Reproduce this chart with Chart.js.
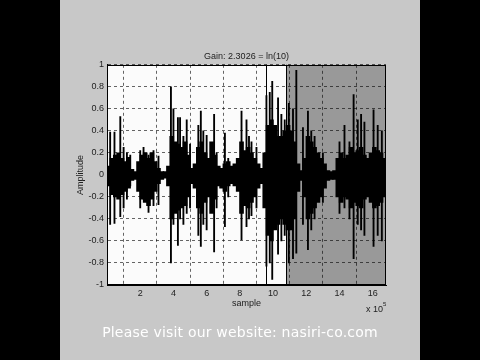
<!DOCTYPE html>
<html>
<head>
<meta charset="utf-8">
<script src="https://cdn.jsdelivr.net/npm/chart.js@4.4.1/dist/chart.umd.min.js"></script>
<style>
  html, body { margin: 0; padding: 0; background: #000; width: 480px; height: 360px; overflow: hidden; }
  #panel { position: absolute; left: 60px; top: 0; width: 360px; height: 360px; background: #c8c8c8; }
  #note { position: absolute; left: 0; top: 324px; width: 360px; text-align: center; color: #fff;
          font: 14px "DejaVu Sans", sans-serif; letter-spacing: 0.2px; }
</style>
</head>
<body>
<div id="panel">
  <canvas id="wave" width="360" height="360"></canvas>
  <div id="note">Please visit our website: nasiri-co.com</div>
</div>
<script>
// x in units of 10^5 samples
// dense core of the waveform, one bin every 0.2
const coreX = [0.1,0.3,0.5,0.7,0.9,1.1,1.3,1.5,1.7,1.9,2.1,2.3,2.5,2.7,2.9,3.1,3.3,3.5,3.7,3.9,
  4.1,4.3,4.5,4.7,4.9,5.1,5.3,5.5,5.7,5.9,6.1,6.3,6.5,6.7,6.9,7.1,7.3,7.5,7.7,7.9,
  8.1,8.3,8.5,8.7,8.9,9.1,9.3,9.5,9.7,9.9,10.1,10.3,10.5,10.7,10.9,11.1,11.3,11.5,11.7,11.9,
  12.1,12.3,12.5,12.7,12.9,13.1,13.3,13.5,13.7,13.9,14.1,14.3,14.5,14.7,14.9,15.1,15.3,15.5,15.7,15.9,
  16.1,16.3,16.5,16.7];
const coreTop = [0.08,0.15,0.18,0.2,0.15,0.12,0.16,0.05,0.03,0.12,
  0.18,0.2,0.15,0.2,0.12,0.06,0.03,0.03,0.08,0.35,
  0.3,0.28,0.25,0.3,0.18,0.06,0.1,0.25,0.3,0.2,
  0.15,0.3,0.18,0.08,0.06,0.1,0.12,0.08,0.1,0.15,
  0.3,0.22,0.25,0.2,0.15,0.1,0.06,0.2,0.45,0.5,
  0.45,0.35,0.35,0.4,0.45,0.4,0.3,0.1,0.04,0.15,
  0.35,0.3,0.25,0.2,0.15,0.1,0.04,0.03,0.04,0.15,
  0.2,0.15,0.18,0.25,0.2,0.22,0.25,0.18,0.15,0.2,
  0.25,0.22,0.2,0.15];
const coreBot = [-0.1,-0.18,-0.2,-0.22,-0.18,-0.15,-0.12,-0.05,-0.04,-0.15,
  -0.22,-0.25,-0.28,-0.22,-0.15,-0.08,-0.04,-0.03,-0.1,-0.4,
  -0.35,-0.32,-0.3,-0.28,-0.2,-0.08,-0.12,-0.3,-0.35,-0.25,
  -0.2,-0.35,-0.22,-0.1,-0.12,-0.15,-0.1,-0.08,-0.1,-0.15,
  -0.35,-0.28,-0.3,-0.25,-0.2,-0.12,-0.08,-0.3,-0.55,-0.6,
  -0.5,-0.45,-0.4,-0.45,-0.5,-0.5,-0.4,-0.15,-0.05,-0.2,
  -0.4,-0.35,-0.3,-0.25,-0.2,-0.12,-0.05,-0.04,-0.04,-0.2,
  -0.25,-0.2,-0.22,-0.3,-0.25,-0.28,-0.3,-0.22,-0.2,-0.25,
  -0.3,-0.28,-0.25,-0.2];

// tall single peaks
const spikeX = [0.19,0.45,0.8,1.0,1.2,1.4,2.0,2.2,2.5,2.8,3.1,3.85,4.0,4.27,4.4,4.6,4.8,5.0,
  5.5,5.65,5.8,6.0,6.45,6.6,7.1,7.3,8.1,8.4,8.55,8.7,9.0,9.6,9.8,9.95,10.3,10.5,10.7,10.95,
  11.2,11.4,11.8,12.1,12.3,12.5,13.0,14.0,14.3,14.6,14.85,15.1,15.3,15.5,16.05,16.3,16.55];
const spikeTop = [0.39,0.39,0.53,0.25,0.2,0.18,0.22,0.25,0.18,0.22,0.17,0.8,0.6,0.52,0.52,0.35,0.5,0.28,
  0.45,0.58,0.4,0.36,0.55,0.2,0.38,0.15,0.58,0.5,0.35,0.3,0.25,0.72,0.75,0.85,0.7,0.55,0.5,0.65,
  0.6,0.95,0.43,0.58,0.4,0.35,0.2,0.3,0.45,0.3,0.73,0.5,0.55,0.48,0.59,0.45,0.4];
const spikeBot = [-0.45,-0.44,-0.38,-0.3,-0.22,-0.1,-0.3,-0.22,-0.34,-0.28,-0.27,-0.8,-0.45,-0.64,-0.4,-0.45,-0.35,-0.3,
  -0.55,-0.65,-0.45,-0.5,-0.7,-0.3,-0.47,-0.2,-0.59,-0.47,-0.4,-0.37,-0.3,-0.83,-0.8,-0.95,-0.72,-0.6,-0.55,-0.8,
  -0.76,-0.71,-0.45,-0.68,-0.5,-0.4,-0.25,-0.35,-0.3,-0.4,-0.76,-0.45,-0.5,-0.55,-0.65,-0.55,-0.6];

const markerX = 9.57;      // cursor line
const selStart = 10.78;    // start of the grey selection
const xMax = 16.8;

//draw plot background, selection and markers under the grid
const backdrop = {
    id: 'backdrop',
    beforeDraw(chart) {
        const {ctx, chartArea: a, scales: {x}} = chart;
        const xs = x.getPixelForValue(selStart);
        const xm = x.getPixelForValue(markerX);
        ctx.save();
        ctx.fillStyle = '#fbfbfb';
        ctx.fillRect(a.left, a.top, a.width, a.height);
        ctx.fillStyle = '#999999';
        ctx.fillRect(xs, a.top, a.right - xs, a.height);
        ctx.strokeStyle = '#000';
        ctx.lineWidth = 1;
        ctx.beginPath();
        ctx.moveTo(Math.round(xm) + 0.5, a.top);
        ctx.lineTo(Math.round(xm) + 0.5, a.bottom);
        ctx.moveTo(Math.round(xs) + 0.5, a.top);
        ctx.lineTo(Math.round(xs) + 0.5, a.bottom);
        ctx.stroke();
        ctx.restore();
    },
    afterDraw(chart) {
        const {ctx, chartArea: a} = chart;
        ctx.save();
        ctx.strokeStyle = '#000';
        ctx.lineWidth = 1;
        ctx.strokeRect(Math.round(a.left) + 0.5, Math.round(a.top) + 0.5,
            Math.round(a.width) - 1, Math.round(a.height) - 1);
        // exponent of the x axis
        ctx.fillStyle = '#222';
        ctx.font = '9px "Liberation Sans", Arial, sans-serif';
        ctx.textAlign = 'left';
        ctx.textBaseline = 'alphabetic';
        ctx.fillText('x 10', a.right - 20, a.bottom + 27);
        ctx.font = '6px "Liberation Sans", Arial, sans-serif';
        ctx.fillText('5', a.right - 3, a.bottom + 21);
        ctx.restore();
    }
};

const gridStyle = {
    color: 'rgba(0,0,0,0.6)',
    lineWidth: 1,
    drawTicks: false
};
const tickFont = { family: '"Liberation Sans", Arial, sans-serif', size: 9 };

new Chart(document.getElementById('wave'), {
    type: 'bar',
    data: {
        datasets: [{
            label: 'core',
            data: coreX.map((x, i) => ({x: x, y: [coreBot[i], coreTop[i]]})),
            backgroundColor: '#000',
            borderWidth: 0,
            barThickness: 4,
            grouped: false
        }, {
            label: 'peaks',
            data: spikeX.map((x, i) => ({x: x, y: [spikeBot[i], spikeTop[i]]})),
            backgroundColor: '#000',
            borderWidth: 0,
            barThickness: 1.2,
            grouped: false
        }]
    },
    options: {
        responsive: false,
        animation: false,
        layout: { padding: { left: 0, right: 34, top: 0, bottom: 50 } },
        scales: {
            x: {
                type: 'linear',
                min: 0,
                max: xMax,
                offset: false,
                grid: { ...gridStyle },
                border: { display: true, color: '#000', dash: [3, 3] },
                ticks: {
                    stepSize: 2,
                    includeBounds: false,
                    padding: 3,
                    color: '#222',
                    font: tickFont,
                    maxRotation: 0,
                    callback: (v) => v === 0 ? '' : v
                },
                title: {
                    display: true,
                    text: 'sample',
                    color: '#222',
                    font: tickFont,
                    padding: { top: 0, bottom: 1 }
                },
                afterFit: (s) => { s.height = 25; }
            },
            y: {
                min: -1,
                max: 1,
                grid: { ...gridStyle },
                border: { display: true, color: '#000', dash: [3, 3] },
                ticks: {
                    stepSize: 0.2,
                    padding: 3,
                    color: '#222',
                    font: tickFont,
                    callback: (v) => String(Math.round(v * 10) / 10)
                },
                title: {
                    display: true,
                    text: 'Amplitude',
                    color: '#222',
                    font: tickFont,
                    padding: { top: 15, bottom: 0 }
                },
                afterFit: (s) => { s.width = 47; }
            }
        },
        plugins: {
            legend: { display: false },
            tooltip: { enabled: false },
            title: {
                display: true,
                fullSize: false,
                text: 'Gain: 2.3026 = ln(10)',
                color: '#222',
                font: { ...tickFont, weight: 'normal' },
                padding: { top: 51, bottom: 3 }
            }
        }
    },
    plugins: [backdrop]
});
</script>
</body>
</html>
